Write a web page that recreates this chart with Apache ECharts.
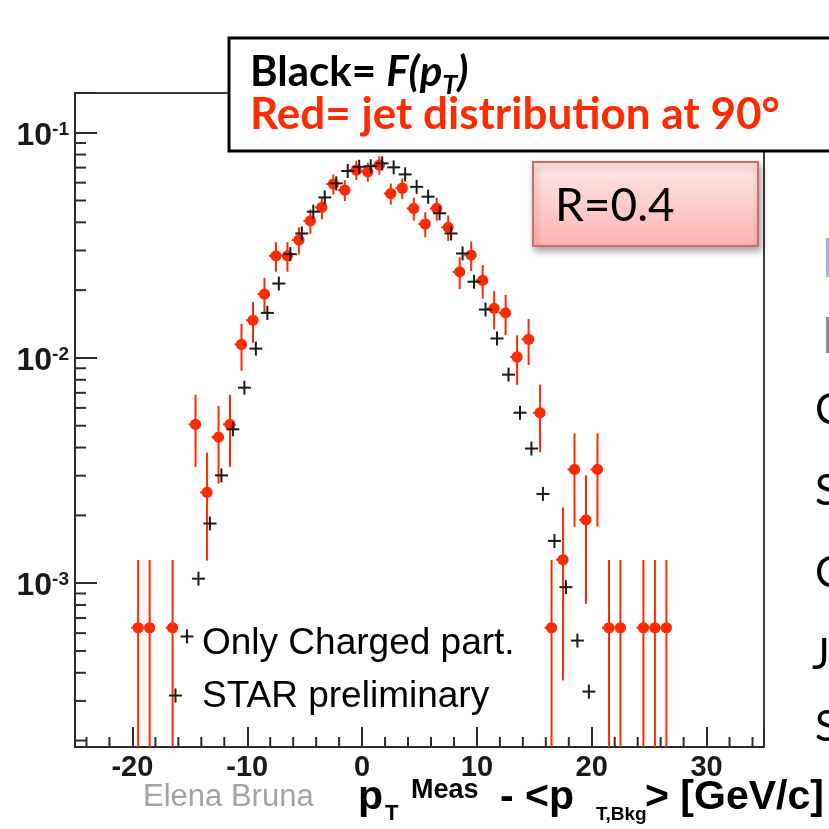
<!DOCTYPE html>
<html><head><meta charset="utf-8">
<script src="https://cdn.jsdelivr.net/npm/echarts@6/dist/echarts.min.js"></script>
<style>html,body{margin:0;padding:0;background:#fff}#c{width:829px;height:829px}</style>
</head><body><div id="c"></div>
<script>
// ---- data ----
const redX = [-19.5,-18.5,-16.5,-14.5,-13.5,-12.5,-11.5,-10.5,-9.5,-8.5,-7.5,-6.5,-5.5,-4.5,-3.5,-2.5,-1.5,-0.5,0.5,1.5,2.5,3.5,4.5,5.5,6.5,7.5,8.5,9.5,10.5,11.5,12.5,13.5,14.5,15.5,16.5,17.5,18.5,19.5,20.5,21.5,22.5,24.5,25.5,26.5];
const redY = [6.34e-4,6.34e-4,6.34e-4,5.07e-3,2.53e-3,4.45e-3,5.07e-3,1.148e-2,1.47e-2,1.92e-2,2.84e-2,2.84e-2,3.34e-2,4.06e-2,4.66e-2,5.92e-2,5.56e-2,6.83e-2,6.71e-2,7.18e-2,5.37e-2,5.67e-2,4.61e-2,3.93e-2,4.61e-2,3.80e-2,2.41e-2,2.86e-2,2.21e-2,1.66e-2,1.585e-2,1.01e-2,1.21e-2,5.71e-3,6.34e-4,1.27e-3,3.2e-3,1.91e-3,3.2e-3,6.34e-4,6.34e-4,6.34e-4,6.34e-4,6.34e-4];
const redErr = [6.34e-4,6.34e-4,6.34e-4,1.79e-3,1.27e-3,1.68e-3,1.79e-3,2.69e-3,3.04e-3,3.47e-3,4.25e-3,4.25e-3,4.6e-3,5.07e-3,5.4e-3,6.1e-3,5.9e-3,6.6e-3,6.5e-3,6.7e-3,5.8e-3,6.0e-3,5.4e-3,5.0e-3,5.4e-3,4.9e-3,3.9e-3,4.25e-3,3.75e-3,3.2e-3,3.2e-3,2.5e-3,2.8e-3,1.9e-3,6.34e-4,9.0e-4,1.42e-3,1.1e-3,1.42e-3,6.34e-4,6.34e-4,6.34e-4,6.34e-4,6.34e-4];
const blackX = [-16.25,-15.25,-14.25,-13.25,-12.25,-11.25,-10.25,-9.25,-8.25,-7.25,-6.25,-5.25,-4.25,-3.25,-2.25,-1.25,-0.25,0.75,1.75,2.75,3.75,4.75,5.75,6.75,7.75,8.75,9.75,10.75,11.75,12.75,13.75,14.75,15.75,16.75,17.75,18.75,19.75];
const blackY = [3.17e-4,5.8e-4,1.047e-3,1.84e-3,3.01e-3,4.82e-3,7.38e-3,1.10e-2,1.585e-2,2.14e-2,2.89e-2,3.57e-2,4.46e-2,5.16e-2,5.96e-2,6.76e-2,7.06e-2,7.1e-2,7.31e-2,7.02e-2,6.53e-2,5.75e-2,5.2e-2,4.39e-2,3.57e-2,2.91e-2,2.18e-2,1.64e-2,1.22e-2,8.43e-3,5.71e-3,3.96e-3,2.49e-3,1.54e-3,9.6e-4,5.56e-4,3.3e-4];
const xTickLabels = [-20,-10,0,10,20,30];
const xMinorTicks = [-24,-22,-18,-16,-14,-12,-8,-6,-4,-2,2,4,6,8,12,14,16,18,22,24,26,28,32,34];
const yTickLabels = [1e-3,1e-2,1e-1];
const yMinorTicks = [2e-4,3e-4,4e-4,5e-4,6e-4,7e-4,8e-4,9e-4,2e-3,3e-3,4e-3,5e-3,6e-3,7e-3,8e-3,9e-3,2e-2,3e-2,4e-2,5e-2,6e-2,7e-2,8e-2,9e-2];
const X_MIN = -25, X_MAX = 35, Y_MIN = 1.873e-4, Y_MAX = 0.1501;

const RED = '#ff2a00', INK = '#1a1a1a', AX = '#2b2b2b';
const chart = echarts.init(document.getElementById('c'), null, {renderer:'canvas'});

function isPow10(v){ const e = Math.log10(v); return Math.abs(e - Math.round(e)) < 1e-6 && yTickLabels.some(t => Math.abs(Math.log10(t) - e) < 1e-6); }

const option = {
  animation:false,
  backgroundColor:'#ffffff',
  grid:{left:75, right:65, top:93, bottom:82, show:true, borderColor:'#3c3c3c', borderWidth:2, backgroundColor:'transparent'},
  xAxis:{type:'value', min:X_MIN, max:X_MAX, splitLine:{show:false},
    axisLine:{show:true, onZero:false, lineStyle:{color:AX, width:2}},
    axisTick:{show:true, inside:true, length:20, lineStyle:{color:AX, width:2}},
    axisLabel:{margin:6, fontFamily:'Liberation Sans', fontWeight:'bold', fontSize:29, color:INK,
      showMinLabel:true, showMaxLabel:true,
      formatter: v => xTickLabels.includes(Math.round(v*1000)/1000) ? String(Math.round(v)) : ''}},
  yAxis:{type:'log', logBase:10, min:Y_MIN, max:Y_MAX, splitLine:{show:false},
    axisLine:{show:true, onZero:false, lineStyle:{color:AX, width:2}},
    axisTick:{show:true, inside:true, length:22, lineStyle:{color:AX, width:2}},
    axisLabel:{margin:6, padding:[7,0,0,0], showMinLabel:true, showMaxLabel:true,
      formatter: v => isPow10(v) ? '{b|10}{s|' + Math.round(Math.log10(v)) + '}' : '',
      rich:{
        b:{fontFamily:'Liberation Sans', fontWeight:'bold', fontSize:32, color:INK, lineHeight:32, verticalAlign:'middle'},
        s:{fontFamily:'Liberation Sans', fontWeight:'bold', fontSize:19, color:INK, lineHeight:19, verticalAlign:'top'}
      }}},
  series:[
    {type:'custom', name:'jet distribution at 90°', clip:true, z:3,
      data: redX.map((x,i)=>[x, redY[i], redErr[i]]),
      renderItem:(params, api)=>{
        const x = api.value(0), y = api.value(1), e = api.value(2);
        const top = api.coord([x, Math.min(y+e, Y_MAX)]);
        const bot = api.coord([x, Math.max(y-e, Y_MIN)]);
        const c = api.coord([x, y]);
        return {type:'group', children:[
          {type:'line', shape:{x1:top[0], y1:top[1], x2:bot[0], y2:bot[1]}, style:{stroke:RED, lineWidth:2}},
          {type:'line', shape:{x1:c[0]-7, y1:c[1], x2:c[0], y2:c[1]}, style:{stroke:RED, lineWidth:2}},
          {type:'circle', shape:{cx:c[0], cy:c[1], r:5.6}, style:{fill:RED}}
        ]};
      }},
    {type:'custom', name:'F(pT)', clip:true, z:4,
      data: blackX.map((x,i)=>[x, blackY[i]]),
      renderItem:(params, api)=>{
        const c = api.coord([api.value(0), api.value(1)]);
        return {type:'group', children:[
          {type:'line', shape:{x1:c[0]-6.5, y1:c[1], x2:c[0]+6.5, y2:c[1]}, style:{stroke:INK, lineWidth:2}},
          {type:'line', shape:{x1:c[0], y1:c[1]-7, x2:c[0], y2:c[1]+7}, style:{stroke:INK, lineWidth:2}}
        ]};
      }},
    {type:'custom', clip:false, z:2, silent:true,
      data: xMinorTicks.map(v=>[v, Y_MIN]),
      renderItem:(params, api)=>{
        const p = api.coord([api.value(0), api.value(1)]);
        return {type:'line', shape:{x1:p[0], y1:p[1], x2:p[0], y2:p[1]-10}, style:{stroke:AX, lineWidth:2}};
      }},
    {type:'custom', clip:false, z:2, silent:true,
      data: yMinorTicks.map(v=>[X_MIN, v]),
      renderItem:(params, api)=>{
        const p = api.coord([api.value(0), api.value(1)]);
        return {type:'line', shape:{x1:p[0], y1:p[1], x2:p[0]+11, y2:p[1]}, style:{stroke:AX, lineWidth:2}};
      }}
  ],
  graphic:[
    // legend-like texts
    {type:'text', z:50, x:202, y:644, style:{text:'Only Charged part.', fontFamily:'Liberation Sans', fontSize:37, fill:'#000', align:'left', verticalAlign:'middle'}},
    {type:'text', z:50, x:202, y:697, style:{text:'STAR preliminary', fontFamily:'Liberation Sans', fontSize:37, fill:'#000', align:'left', verticalAlign:'middle'}},
    {type:'text', z:50, x:143, y:797, style:{text:'Elena Bruna', fontFamily:'Liberation Sans', fontSize:31, fill:'#a3a3a3', align:'left', verticalAlign:'middle'}},
    // x-axis title
    {type:'text', z:50, x:358, y:798, style:{text:'p', fontFamily:'Liberation Sans', fontWeight:'bold', fontSize:41, fill:'#000', verticalAlign:'middle'}},
    {type:'text', z:50, x:385, y:814, style:{text:'T', fontFamily:'Liberation Sans', fontWeight:'bold', fontSize:22, fill:'#000', verticalAlign:'middle'}},
    {type:'text', z:50, x:411, y:790.5, style:{text:'Meas', fontFamily:'Liberation Sans', fontWeight:'bold', fontSize:27, fill:'#000', verticalAlign:'middle'}},
    {type:'text', z:50, x:500, y:798, style:{text:'- <p', fontFamily:'Liberation Sans', fontWeight:'bold', fontSize:41, fill:'#000', verticalAlign:'middle'}},
    {type:'text', z:50, x:596, y:815, style:{text:'T,Bkg', fontFamily:'Liberation Sans', fontWeight:'bold', fontSize:19, fill:'#000', verticalAlign:'middle'}},
    {type:'text', z:50, x:645, y:798, style:{text:'> [GeV/c]', fontFamily:'Liberation Sans', fontWeight:'bold', fontSize:41, fill:'#000', verticalAlign:'middle'}},
    // title box
    {type:'rect', z:60, shape:{x:229, y:38, width:640, height:113}, style:{fill:'#fff', stroke:'#000', lineWidth:3}},
    {type:'text', z:61, x:250, y:75, style:{text:'{k|Black= }{i|F(p}{sub|T}{i|)}', verticalAlign:'middle', align:'left',
      rich:{
        k:{fontFamily:'Lato', fontWeight:'bold', fontSize:42, fill:'#000', lineHeight:48, verticalAlign:'top'},
        i:{fontFamily:'Lato', fontWeight:'bold', fontStyle:'italic', fontSize:42, fill:'#000', lineHeight:48, verticalAlign:'top'},
        sub:{fontFamily:'Lato', fontWeight:'bold', fontStyle:'italic', fontSize:27, fill:'#000', lineHeight:26, verticalAlign:'bottom'}
      }}},
    {type:'text', z:61, x:250, y:115, style:{text:'Red= jet distribution at 90°', fontFamily:'Lato', fontWeight:'bold', fontSize:44, fill:RED, align:'left', verticalAlign:'middle'}},
    // R=0.4 box
    {type:'rect', z:60, shape:{x:533, y:162, width:225, height:84},
      style:{fill:{type:'linear', x:0, y:0, x2:0, y2:1, colorStops:[{offset:0, color:'#ffe9e9'},{offset:1, color:'#ffb2b2'}]},
        stroke:'#cf6a6a', lineWidth:2, shadowBlur:7, shadowOffsetX:2, shadowOffsetY:4, shadowColor:'rgba(0,0,0,0.35)'}},
    {type:'text', z:61, x:555, y:206, style:{text:'R=0.4', fontFamily:'Lato', fontSize:46, fill:'#000', align:'left', verticalAlign:'middle'}},
    // slide-text fragments at the right edge
    {type:'rect', z:40, shape:{x:826, y:238, width:3, height:39}, style:{fill:'#9db0ff'}},
    {type:'rect', z:40, shape:{x:826, y:317, width:3, height:36}, style:{fill:'#8a8a8a'}},
    {type:'text', z:40, x:815, y:410, style:{text:'C', fontFamily:'Lato', fontSize:42, fill:'#000', verticalAlign:'middle'}},
    {type:'text', z:40, x:815, y:491, style:{text:'S', fontFamily:'Lato', fontSize:42, fill:'#000', verticalAlign:'middle'}},
    {type:'text', z:40, x:815, y:573, style:{text:'C', fontFamily:'Lato', fontSize:42, fill:'#000', verticalAlign:'middle'}},
    {type:'text', z:40, x:812, y:655, style:{text:'J', fontFamily:'Lato', fontSize:42, fill:'#000', verticalAlign:'middle'}},
    {type:'text', z:40, x:815, y:727, style:{text:'S', fontFamily:'Lato', fontSize:42, fill:'#000', verticalAlign:'middle'}}
  ]
};
chart.setOption(option);
</script>
</body></html>
